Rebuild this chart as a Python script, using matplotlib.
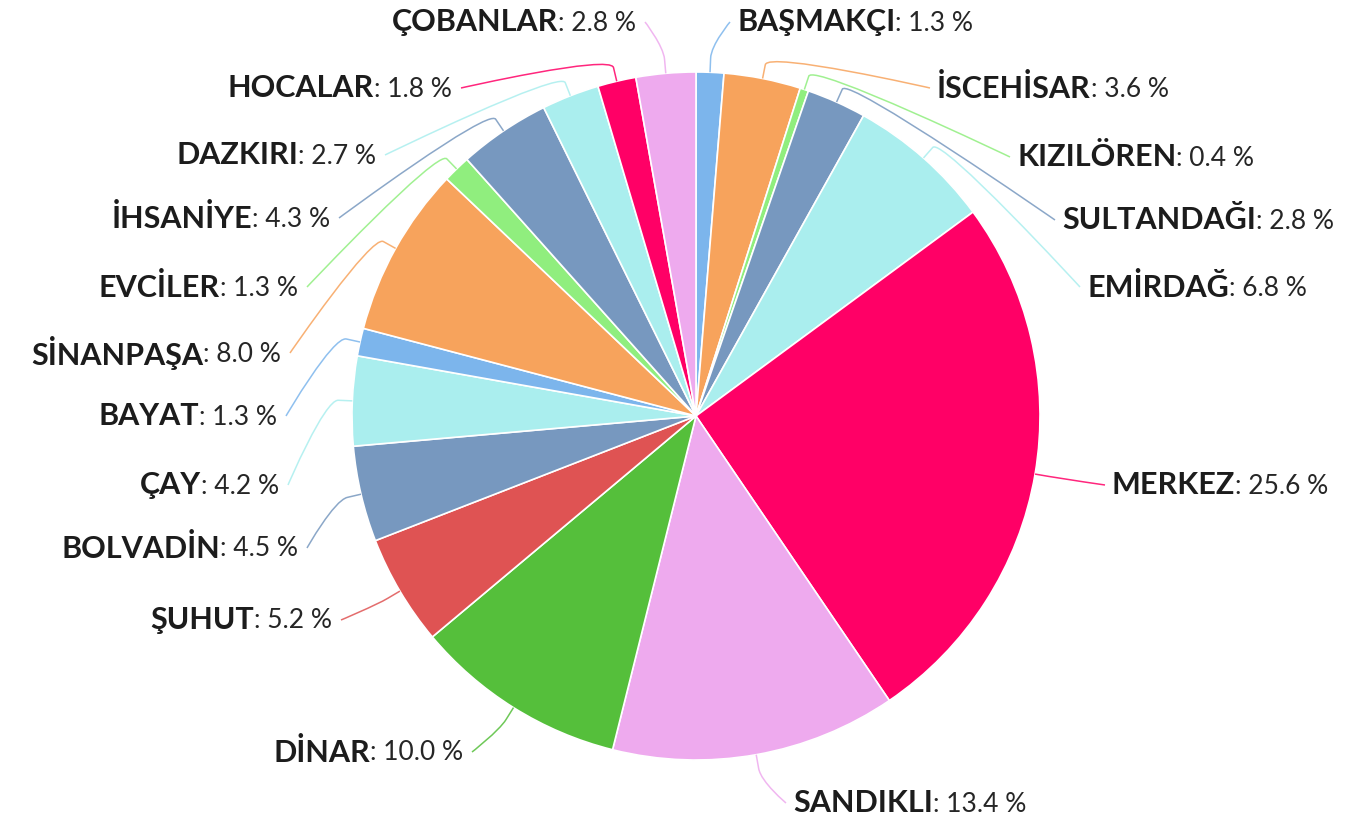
import numpy as np
import matplotlib.pyplot as plt
from matplotlib.path import Path
from matplotlib.patches import PathPatch

# -----------------------------
# Data (clockwise from 12 o'clock)
# -----------------------------
names = ["BAŞMAKÇI", "İSCEHİSAR", "KIZILÖREN", "SULTANDAĞI", "EMİRDAĞ", "MERKEZ",
         "SANDIKLI", "DİNAR", "ŞUHUT", "BOLVADİN", "ÇAY", "BAYAT", "SİNANPAŞA",
         "EVCİLER", "İHSANİYE", "DAZKIRI", "HOCALAR", "ÇOBANLAR"]
shares = [1.3, 3.6, 0.4, 2.8, 6.8, 25.6, 13.4, 10.0, 5.2, 4.5, 4.2, 1.3, 8.0,
          1.3, 4.3, 2.7, 1.8, 2.8]

palette = ["#7cb5ec", "#f7a35c", "#90ee7e", "#7798BF", "#aaeeee", "#ff0066",
           "#eeaaee", "#55BF3B", "#DF5353", "#7798BF", "#aaeeee"]

# -----------------------------
# Layout (pixel coords, y downwards)
# -----------------------------
W, H = 1363, 822
cx, cy, R = 696, 416, 344
# label anchor: x = text start (right side) or text end (left side), y = text centre
label_pos = {
    "BAŞMAKÇI": (737, 22), "İSCEHİSAR": (937, 88), "KIZILÖREN": (1017, 157),
    "SULTANDAĞI": (1062, 220), "EMİRDAĞ": (1087, 287), "MERKEZ": (1112, 485),
    "SANDIKLI": (793, 803), "DİNAR": (463, 752), "ŞUHUT": (332, 620),
    "BOLVADİN": (298, 548), "ÇAY": (279, 485), "BAYAT": (277, 416),
    "SİNANPAŞA": (281, 353), "EVCİLER": (298, 287), "İHSANİYE": (330, 218),
    "DAZKIRI": (376, 155), "HOCALAR": (452, 88), "ÇOBANLAR": (636, 22),
}
right_side = {"BAŞMAKÇI", "İSCEHİSAR", "KIZILÖREN", "SULTANDAĞI", "EMİRDAĞ",
              "MERKEZ", "SANDIKLI"}

colors = [palette[i % len(palette)] for i in range(len(shares))]

fig = plt.figure(figsize=(W / 100, H / 100), dpi=100)
ax = fig.add_axes([0, 0, 1, 1])
ax.pie(shares, colors=colors, startangle=-90, counterclock=True,
       center=(cx, cy), radius=R,
       wedgeprops=dict(edgecolor="white", linewidth=1.2))
ax.set_xlim(0, W)
ax.set_ylim(H, 0)
ax.set_aspect("equal")
ax.axis("off")

renderer = fig.canvas.get_renderer()
name_kw = dict(fontsize=22, fontweight="bold", family="Lato", color="#1c1c1c", va="center")
val_kw = dict(fontsize=19, family="Lato", color="#262626", va="center")

total = sum(shares)
cum = 0.0
for name, v, col in zip(names, shares, colors):
    mid = (cum + v / 2) / total
    cum += v
    phi = np.deg2rad(-90 + 360 * mid)
    ex, ey = cx + R * np.cos(phi), cy + R * np.sin(phi)
    bx, by = cx + (R + 14) * np.cos(phi), cy + (R + 14) * np.sin(phi)
    lx, ly = label_pos[name]
    val = f": {v:.1f} %"

    if name in right_side:
        t1 = ax.text(lx, ly, name, ha="left", **name_kw)
        w = t1.get_window_extent(renderer).width
        ax.text(lx + w, ly + 1, val, ha="left", **val_kw)
        sx = lx - 7
    else:
        t2 = ax.text(lx, ly + 1, val, ha="right", **val_kw)
        w = t2.get_window_extent(renderer).width
        ax.text(lx - w, ly, name, ha="right", **name_kw)
        sx = lx + 9

    # soft connector: label -> break point (curve), then straight to slice edge
    verts = [(sx, ly), (sx, ly), (2 * bx - ex, 2 * by - ey), (bx, by), (ex, ey)]
    codes = [Path.MOVETO, Path.CURVE4, Path.CURVE4, Path.CURVE4, Path.LINETO]
    ax.add_patch(PathPatch(Path(verts, codes), facecolor="none",
                           edgecolor=col, lw=1.1, alpha=0.85))

fig.savefig("out.png", dpi=100, facecolor="white")
